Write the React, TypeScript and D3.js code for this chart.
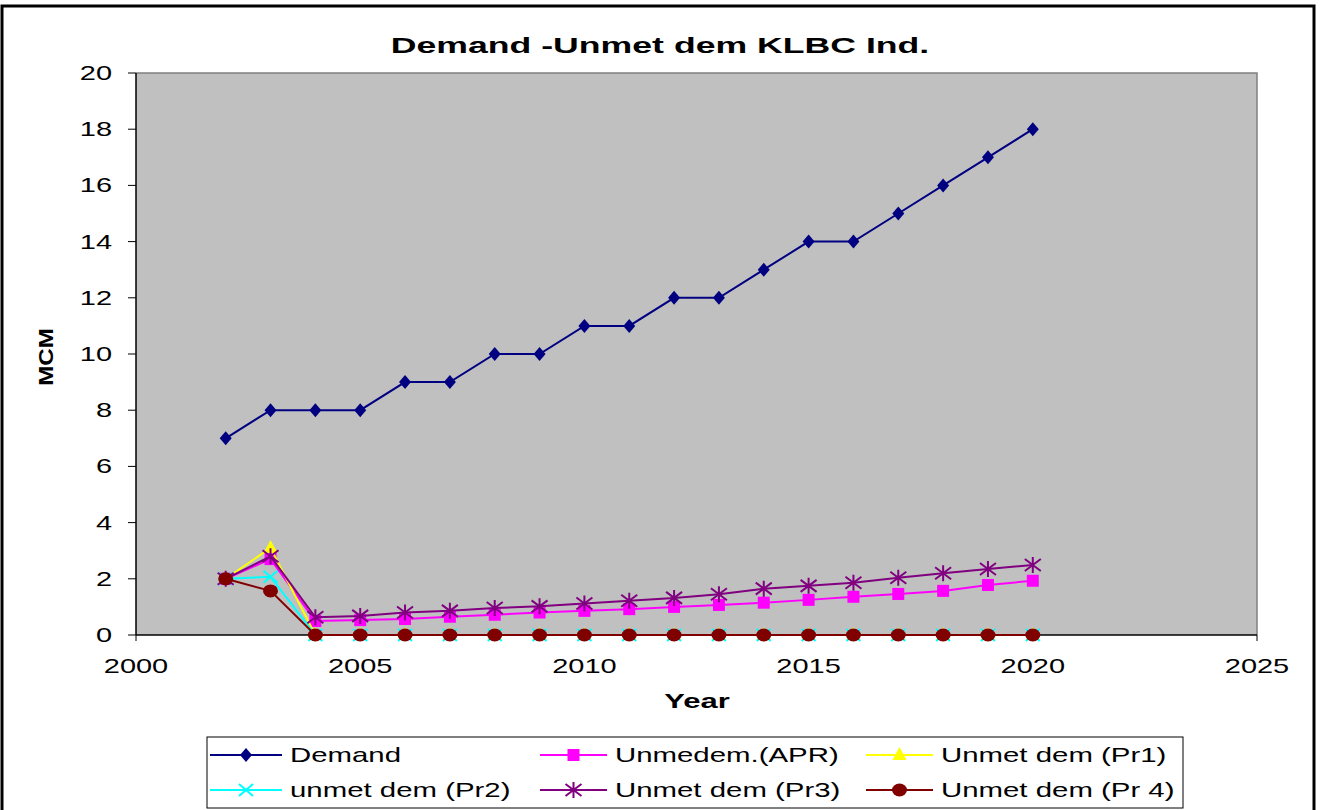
import * as d3 from "d3";

const years = [2002, 2003, 2004, 2005, 2006, 2007, 2008, 2009, 2010, 2011, 2012, 2013, 2014, 2015, 2016, 2017, 2018, 2019, 2020];
const demand = [7, 8, 8, 8, 9, 9, 10, 10, 11, 11, 12, 12, 13, 14, 14, 15, 16, 17, 18];
const unmetApr = [2, 2.7, 0.5, 0.53, 0.57, 0.65, 0.72, 0.8, 0.86, 0.92, 1.0, 1.07, 1.15, 1.25, 1.36, 1.46, 1.57, 1.78, 1.93];
const unmetPr1 = [2, 3.1, 0, 0, 0, 0, 0, 0, 0, 0, 0, 0, 0, 0, 0, 0, 0, 0, 0];
const unmetPr2 = [2, 2.07, 0, 0, 0, 0, 0, 0, 0, 0, 0, 0, 0, 0, 0, 0, 0, 0, 0];
const unmetPr3 = [2, 2.8, 0.63, 0.68, 0.8, 0.86, 0.96, 1.02, 1.12, 1.22, 1.32, 1.45, 1.65, 1.75, 1.86, 2.04, 2.2, 2.35, 2.49];
const unmetPr4 = [2, 1.57, 0, 0, 0, 0, 0, 0, 0, 0, 0, 0, 0, 0, 0, 0, 0, 0, 0];

const seriesNames = ["Demand", "Unmedem.(APR)", "Unmet dem (Pr1)", "unmet dem (Pr2)", "Unmet dem (Pr3)", "Unmet dem (Pr 4)"];
const seriesValues = [demand, unmetApr, unmetPr1, unmetPr2, unmetPr3, unmetPr4];
const colors = ["#000080", "#FF00FF", "#FFFF00", "#00FFFF", "#800080", "#800000"];
const markers = ["diamond", "square", "triangle", "x", "star", "circle"];

const xTicks = [2000, 2005, 2010, 2015, 2020, 2025];
const yTicks = [0, 2, 4, 6, 8, 10, 12, 14, 16, 18, 20];

const FONT = "'Liberation Sans', Arial, sans-serif";
const PLOT = { left: 136, right: 1257, top: 73, bottom: 635 };
const STRETCH = 1.45; // the original text is drawn wide

const Marker = ({ type, x, y, color }: { type: string; x: number; y: number; color: string }) => {
  if (type === "diamond") {
    return <path d={`M${x},${y - 7}L${x + 6},${y}L${x},${y + 7}L${x - 6},${y}Z`} fill={color} />;
  }
  if (type === "square") {
    return <rect x={x - 6} y={y - 6} width={12} height={12} fill={color} />;
  }
  if (type === "triangle") {
    return <path d={`M${x},${y - 8}L${x + 7},${y + 5}L${x - 7},${y + 5}Z`} fill={color} />;
  }
  if (type === "x") {
    return (
      <path d={`M${x - 7},${y - 6}L${x + 7},${y + 6}M${x - 7},${y + 6}L${x + 7},${y - 6}`} stroke={color} strokeWidth={2} />
    );
  }
  if (type === "star") {
    return (
      <path
        d={`M${x - 8},${y - 6}L${x + 8},${y + 6}M${x - 8},${y + 6}L${x + 8},${y - 6}M${x},${y - 8}L${x},${y + 8}`}
        stroke={color}
        strokeWidth={2}
      />
    );
  }
  return <ellipse cx={x} cy={y} rx={7.5} ry={6.5} fill={color} />;
};

const App = () => {
  const xScale = d3.scaleLinear().domain([2000, 2025]).range([PLOT.left, PLOT.right]);
  const yScale = d3.scaleLinear().domain([0, 20]).range([PLOT.bottom, PLOT.top]);

  const line = d3
    .line<number>()
    .x((_, i) => xScale(years[i]))
    .y((d) => yScale(d));

  const legendLines = [
    [210, 282],
    [540, 607],
    [866, 933],
  ];
  const legendText = [290, 615, 941];
  const legendRows = [755, 790];

  return (
    <svg width={1322} height={810} style={{ position: "absolute", left: 0, top: 0, background: "#fff" }} fontFamily={FONT}>
      <rect x={2} y={6} width={1312} height={820} fill="#fff" stroke="#000" strokeWidth={3} />

      <text transform={`translate(660,53) scale(1.62,1)`} textAnchor="middle" fontSize={22} fontWeight="bold">
        Demand -Unmet dem KLBC Ind.
      </text>

      <rect x={PLOT.left} y={PLOT.top} width={PLOT.right - PLOT.left} height={PLOT.bottom - PLOT.top} fill="#C0C0C0" />
      <path
        d={`M${PLOT.left},${PLOT.top}H${PLOT.right}V${PLOT.bottom}`}
        fill="none"
        stroke="#808080"
        strokeWidth={1.5}
      />

      {/* y axis */}
      <line x1={PLOT.left} x2={PLOT.left} y1={PLOT.top} y2={PLOT.bottom} stroke="#000" strokeWidth={1.5} />
      {yTicks.map((t) => (
        <g key={t}>
          <line x1={PLOT.left - 8} x2={PLOT.left} y1={yScale(t)} y2={yScale(t)} stroke="#000" strokeWidth={1} />
          <text
            transform={`translate(${PLOT.left - 24},${yScale(t)}) scale(${STRETCH},1)`}
            dy="0.35em"
            textAnchor="end"
            fontSize={20}
          >
            {t}
          </text>
        </g>
      ))}

      {/* x axis */}
      <line x1={PLOT.left} x2={PLOT.right} y1={PLOT.bottom} y2={PLOT.bottom} stroke="#000" strokeWidth={1.5} />
      {xTicks.map((t) => (
        <g key={t}>
          <line x1={xScale(t)} x2={xScale(t)} y1={PLOT.bottom} y2={PLOT.bottom + 6} stroke="#000" strokeWidth={1} />
          <text transform={`translate(${xScale(t)},${PLOT.bottom + 38}) scale(${STRETCH},1)`} textAnchor="middle" fontSize={20}>
            {t}
          </text>
        </g>
      ))}

      <text transform="translate(697,708) scale(1.55,1)" textAnchor="middle" fontSize={20} fontWeight="bold">
        Year
      </text>
      <text transform="translate(53,357) rotate(-90) scale(1.2,1)" textAnchor="middle" fontSize={20} fontWeight="bold">
        MCM
      </text>

      {seriesValues.map((vals, si) => (
        <g key={seriesNames[si]}>
          <path d={line(vals) ?? ""} fill="none" stroke={colors[si]} strokeWidth={2} />
          {vals.map((v, i) => (
            <Marker key={i} type={markers[si]} x={xScale(years[i])} y={yScale(v)} color={colors[si]} />
          ))}
        </g>
      ))}

      {/* legend */}
      <rect x={207} y={737} width={976} height={71} fill="#fff" stroke="#000" strokeWidth={1} />
      {seriesNames.map((name, si) => {
        const col = si % 3;
        const [x1, x2] = legendLines[col];
        const ly = legendRows[Math.floor(si / 3)];
        return (
          <g key={name}>
            <line x1={x1} x2={x2} y1={ly} y2={ly} stroke={colors[si]} strokeWidth={2} />
            <Marker type={markers[si]} x={(x1 + x2) / 2} y={ly} color={colors[si]} />
            <text transform={`translate(${legendText[col]},${ly}) scale(1.4,1)`} dy="0.35em" fontSize={21}>
              {name}
            </text>
          </g>
        );
      })}
    </svg>
  );
};

export default App;
